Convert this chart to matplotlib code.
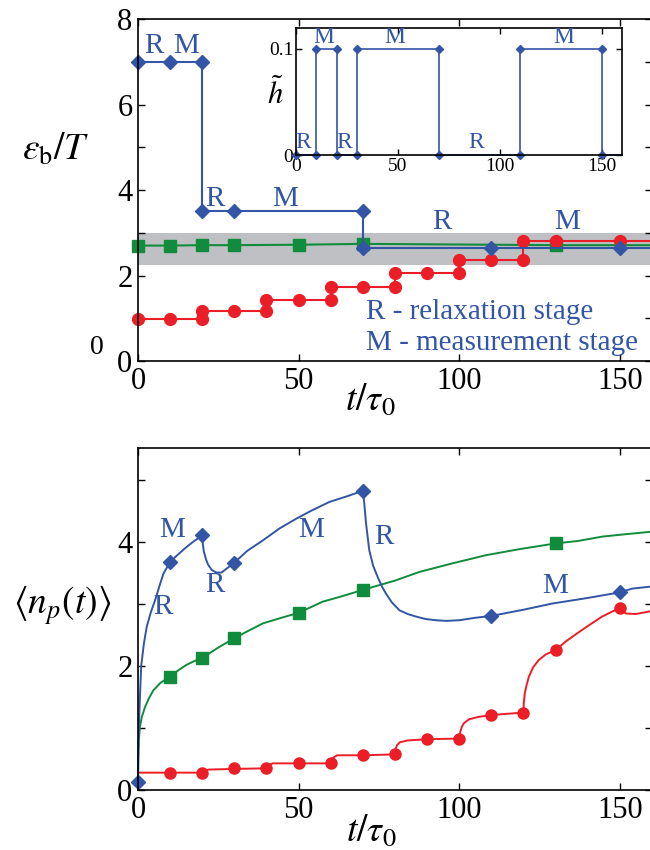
import matplotlib
matplotlib.use("Agg")
from matplotlib import pyplot as plt

plt.rcParams['font.family'] = ['Liberation Serif', 'DejaVu Serif']
plt.rcParams['mathtext.fontset'] = 'stix'

azul = '#3355a5'
verde = '#108c3c'
rojo = '#eb1e28'
gris = '#bec0c4'

# panel superior: energia de barrera
azul_t = [0, 10, 20, 20, 30, 70, 70, 110, 150, 160]
azul_e = [7, 7, 7, 3.5, 3.5, 3.5, 2.65, 2.65, 2.65, 2.65]
verde_t = [0, 10, 20, 30, 50, 70, 130, 160]
verde_e = [2.70, 2.70, 2.71, 2.71, 2.72, 2.74, 2.71, 2.71]
rojo_t = [0, 10, 20, 20, 30, 40, 40, 50, 60, 60, 70, 80, 80, 90, 100, 100, 110, 120, 120, 130, 150, 160]
rojo_e = [0.98, 0.98, 0.98, 1.18, 1.18, 1.18, 1.43, 1.43, 1.43, 1.72, 1.72, 1.72, 2.07, 2.07, 2.07, 2.37,
          2.37, 2.37, 2.80, 2.80, 2.80, 2.80]
banda = (2.25, 3.0)

# inset: campo h
h_t = [0, 10, 10, 20, 20, 30, 30, 70, 70, 110, 110, 150, 150, 160]
h_v = [0, 0, 0.1, 0.1, 0, 0, 0.1, 0.1, 0, 0, 0.1, 0.1, 0, 0]

# panel inferior: <n_p(t)>
nb_t = [0, 0.1, 0.3, 0.6, 1.0, 1.8, 2.7, 4.0, 5.3, 6.6, 7.9, 10, 12, 14.6, 17, 20, 20.15, 20.5, 21.2,
        21.8, 23, 24.4, 26, 27.5, 30, 34, 38.9, 44, 49.3, 54, 59.6, 65, 70, 70.4, 71, 72, 73.2, 74.6,
        76, 77.2, 79, 81.4, 84, 86.5, 89.5, 92.8, 96, 100, 105, 110, 120, 129, 140, 150, 153.8, 159, 160]
nb_v = [0.13, 0.65, 1.05, 1.5, 2.0, 2.35, 2.63, 2.87, 3.06, 3.28, 3.49, 3.68, 3.78, 3.90, 4.0, 4.11, 3.98,
        3.85, 3.72, 3.64, 3.55, 3.51, 3.51, 3.57, 3.67, 3.86, 4.03, 4.22, 4.38, 4.51, 4.65, 4.74, 4.83,
        4.65, 4.30, 3.87, 3.62, 3.44, 3.28, 3.17, 3.03, 2.90, 2.84, 2.80, 2.76, 2.74, 2.73, 2.74, 2.78,
        2.81, 2.91, 3.01, 3.10, 3.19, 3.25, 3.28, 3.28]
nb_mt = [0, 10, 20, 30, 70, 110, 150]
nb_mv = [0.13, 3.68, 4.11, 3.67, 4.83, 2.81, 3.19]

nv_t = [0, 0.1, 0.25, 0.6, 1.2, 2.2, 3.4, 4.8, 7, 10, 12.5, 15.1, 17.5, 20, 25, 30, 34, 38.9, 44,
        50, 57.5, 63, 70, 80, 87.6, 98, 108.3, 119, 130, 137, 144.5, 152, 160]
nv_v = [0.0, 0.5, 0.8, 1.02, 1.18, 1.34, 1.48, 1.61, 1.73, 1.83, 1.93, 2.02, 2.08, 2.13, 2.30, 2.45,
        2.56, 2.69, 2.77, 2.86, 3.04, 3.12, 3.23, 3.38, 3.52, 3.66, 3.79, 3.89, 3.98, 4.02, 4.09, 4.13, 4.17]
nv_mt = [10, 20, 30, 50, 70, 130]
nv_mv = [1.83, 2.13, 2.45, 2.86, 3.23, 3.98]

nr_t = [0, 10, 20, 20.5, 22, 30, 40, 40.4, 41, 42, 50, 60, 60.4, 61, 62, 70, 80, 80.2, 80.6, 81.5,
        84, 90, 100, 100.3, 100.8, 101.5, 103, 106, 110, 120, 120.1, 120.4, 121, 121.7, 123, 124.8,
        127, 130, 133.5, 137.3, 141, 144.5, 148, 150, 151, 151.8, 154.9, 157, 160]
nr_v = [0.28, 0.28, 0.28, 0.31, 0.33, 0.34, 0.35, 0.39, 0.41, 0.43, 0.43, 0.43, 0.50, 0.53, 0.56, 0.56,
        0.575, 0.66, 0.72, 0.77, 0.80, 0.82, 0.83, 0.93, 1.02, 1.08, 1.14, 1.18, 1.21, 1.25, 1.40, 1.56,
        1.70, 1.83, 1.98, 2.10, 2.19, 2.26, 2.41, 2.55, 2.68, 2.80, 2.89, 2.94, 2.89, 2.85, 2.84, 2.86, 2.89]
nr_mt = [10, 20, 30, 40, 50, 60, 70, 80, 90, 100, 110, 120, 130, 150]
nr_mv = [0.28, 0.28, 0.35, 0.35, 0.43, 0.43, 0.56, 0.575, 0.82, 0.83, 1.21, 1.25, 2.26, 2.94]

fig = plt.figure(figsize=(6.5, 8.5), dpi=100)


def ejes(ax, ymax, yt, ylab):
    ax.set_xlim(0, 160)
    ax.set_ylim(0, ymax)
    ax.set_xticks([0, 50, 100, 150])
    ax.set_yticks(yt)
    ax.set_yticklabels(ylab)
    ax.tick_params(direction='in', top=True, right=True, length=5, width=1, labelsize=22, pad=4)
    for s in ax.spines.values():
        s.set_linewidth(1.2)


# ---- panel superior ----
ax1 = fig.add_axes([0.2123, 0.5753, 0.7907, 0.4023])
ejes(ax1, 8, range(9), ['0', '', '2', '', '4', '', '6', '', '8'])
ax1.axhspan(banda[0], banda[1], color=gris, lw=0, zorder=0)
ax1.plot(verde_t, verde_e, '-', color=verde, lw=1.5, marker='s', ms=9, markevery=slice(0, -1), clip_on=False)
ax1.plot(rojo_t, rojo_e, '-', color=rojo, lw=1.5, marker='o', ms=8.5, markevery=slice(0, -1), clip_on=False)
ax1.plot(azul_t, azul_e, '-', color=azul, lw=1.5, marker='D', ms=7.5, markevery=slice(0, -1), clip_on=False)

for tx, ty, s in [(4.8, 7.37, 'R'), (14.9, 7.37, 'M'), (23.9, 3.79, 'R'), (45.8, 3.79, 'M'),
                  (94.7, 3.25, 'R'), (133.7, 3.25, 'M')]:
    ax1.text(tx, ty, s, color=azul, fontsize=21, ha='center', va='center')
ax1.text(71.1, 1.15, 'R - relaxation stage', color=azul, fontsize=21, ha='left', va='center')
ax1.text(71.1, 0.41, 'M - measurement stage', color=azul, fontsize=21, ha='left', va='center')

fig.text(56 / 650, 1 - 150 / 850, r'$\varepsilon_{\rm b}/T$', fontsize=27, ha='center', va='center')
fig.text(370 / 650, 1 - 400 / 850, r'$t/\tau_0$', fontsize=27, ha='center', va='center')
fig.text(97 / 650, 1 - 348 / 850, '0', fontsize=20, ha='center', va='center')

# ---- inset ----
ax3 = fig.add_axes([0.4554, 0.8176, 0.5015, 0.1498])
ax3.set_xlim(0, 160)
ax3.set_ylim(0, 0.12)
ax3.set_xticks([0, 50, 100, 150])
ax3.set_yticks([0, 0.1])
ax3.set_yticklabels(['0', '0.1'])
ax3.tick_params(direction='in', top=True, right=True, length=4, width=1, labelsize=14, pad=2)
for s in ax3.spines.values():
    s.set_linewidth(1.2)
ax3.plot(h_t, h_v, '-', color=azul, lw=1.2, marker='D', ms=4, markevery=slice(0, -1), clip_on=False)
for tx, ty, s in [(3.5, 0.012, 'R'), (13.7, 0.111, 'M'), (23.9, 0.012, 'R'), (48.3, 0.111, 'M'),
                  (88.5, 0.012, 'R'), (131.2, 0.111, 'M')]:
    ax3.text(tx, ty, s, color=azul, fontsize=17, ha='center', va='center')
fig.text(275 / 650, 1 - 95 / 850, r'$\tilde{h}$', fontsize=22, ha='center', va='center')

# ---- panel inferior ----
ax2 = fig.add_axes([0.2123, 0.0706, 0.7907, 0.4023])
ejes(ax2, 5.52, range(6), ['0', '', '2', '', '4', ''])
ax2.plot(nv_t, nv_v, '-', color=verde, lw=1.4)
ax2.plot(nv_mt, nv_mv, 's', color=verde, ms=8)
ax2.plot(nr_t, nr_v, '-', color=rojo, lw=1.4)
ax2.plot(nr_mt, nr_mv, 'o', color=rojo, ms=8)
ax2.plot(nb_t, nb_v, '-', color=azul, lw=1.4, clip_on=False)
ax2.plot(nb_mt, nb_mv, 'D', color=azul, ms=7, clip_on=False)

for tx, ty, s in [(10.6, 4.2, 'M'), (7.8, 2.96, 'R'), (23.9, 3.31, 'R'), (53.8, 4.2, 'M'),
                  (76.5, 4.09, 'R'), (129.8, 3.29, 'M')]:
    ax2.text(tx, ty, s, color=azul, fontsize=21, ha='center', va='center')

fig.text(62 / 650, 1 - 605 / 850, r'$\langle n_p(t)\rangle$', fontsize=27, ha='center', va='center')
fig.text(371 / 650, 1 - 831 / 850, r'$t/\tau_0$', fontsize=27, ha='center', va='center')

plt.savefig('out.png', dpi=100)
